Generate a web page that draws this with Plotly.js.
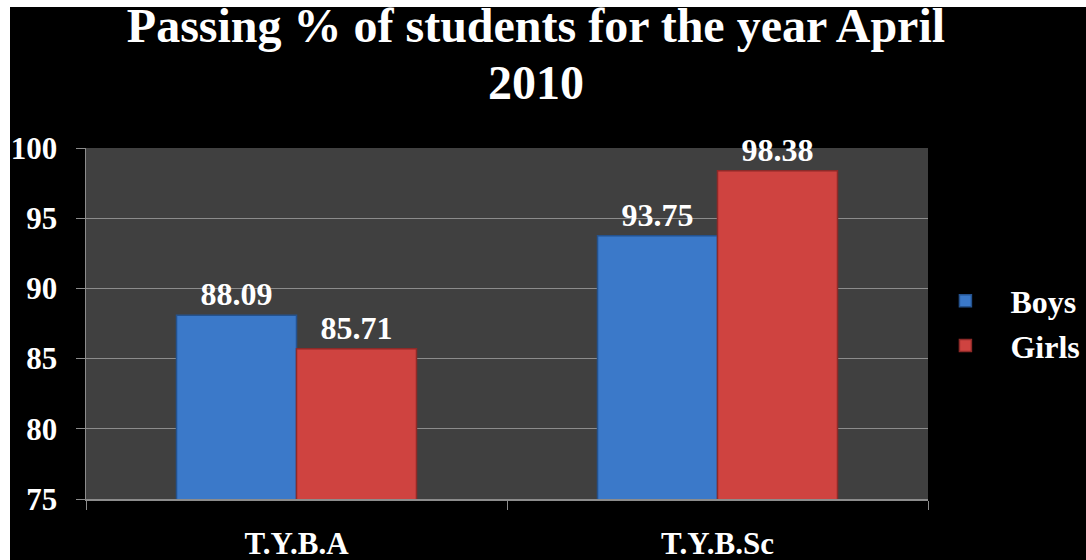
<!DOCTYPE html>
<html><head><meta charset="utf-8">
<script src="https://cdn.plot.ly/plotly-3.0.1.min.js"></script>
<style>html,body{margin:0;padding:0;background:#ffffff;overflow:hidden;}#chart{position:absolute;left:10px;top:7px;width:1076px;height:553px;}</style>
</head><body><div id="chart"></div>
<script>
const categories = ["T.Y.B.A", "T.Y.B.Sc"];
const boys = [88.09, 93.75];
const girls = [85.71, 98.38];
const yTicks = [75, 80, 85, 90, 95, 100];
const titleLine1 = "Passing % of students for the year April";
const titleLine2 = "2010";

const serif = "Liberation Serif, Times New Roman, serif";
function series(name, vals, color, line) {
  return {
    type: "bar", name: name, x: categories, y: vals,
    text: vals.map(v => v.toFixed(2)), textposition: "outside",
    textfont: {family: serif, size: 32, color: "#ffffff", weight: "bold"},
    cliponaxis: false,
    marker: {color: color, line: {color: line, width: 1.5}},
    hoverinfo: "skip"
  };
}
const data = [
  series("Boys", boys, "#3b79c9", "#24528e"),
  series("Girls", girls, "#cf4340", "#8e2a28")
];
const layout = {
  width: 1076, height: 553,
  paper_bgcolor: "#000000", plot_bgcolor: "#404040",
  margin: {l: 76, r: 158, t: 141, b: 61, autoexpand: false},
  barmode: "group", bargap: 0.43, bargroupgap: 0,
  title: {text: titleLine1, x: 0.4888, xanchor: "center", y: 0.967, yanchor: "middle",
    font: {family: serif, size: 48, color: "#ffffff", weight: "bold"}},
  annotations: [{text: titleLine2, xref: "paper", yref: "paper", x: (536 - 86) / 842, y: (499 - 82) / 351,
    xanchor: "center", yanchor: "middle", showarrow: false,
    font: {family: serif, size: 48, color: "#ffffff", weight: "bold"}}],
  font: {family: serif, color: "#ffffff"},
  xaxis: {showgrid: false, showline: true, linecolor: "#8c8c8c", linewidth: 1.5,
    ticks: "outside", tickson: "boundaries", ticklen: 9, tickcolor: "#8c8c8c",
    ticklabelstandoff: 16,
    tickfont: {family: serif, size: 31, color: "#ffffff", weight: "bold"}, fixedrange: true},
  yaxis: {range: [75, 100], tickvals: yTicks, ticktext: yTicks.map(String),
    showgrid: true, gridcolor: "#8c8c8c", gridwidth: 1.2, zeroline: false,
    showline: true, linecolor: "#8c8c8c", linewidth: 1.5,
    ticks: "outside", ticklen: 9, tickcolor: "#8c8c8c", ticklabelstandoff: 12,
    tickfont: {family: serif, size: 31, color: "#ffffff", weight: "bold"}, fixedrange: true},
  legend: {x: 0.991, xanchor: "left", y: 0.5, yanchor: "middle", bgcolor: "rgba(0,0,0,0)",
    font: {family: serif, size: 32, color: "#ffffff", weight: "bold"}, tracegroupgap: 10, itemwidth: 80},
  showlegend: true
};
Plotly.newPlot("chart", data, layout, {displayModeBar: false, staticPlot: true});
</script></body></html>
